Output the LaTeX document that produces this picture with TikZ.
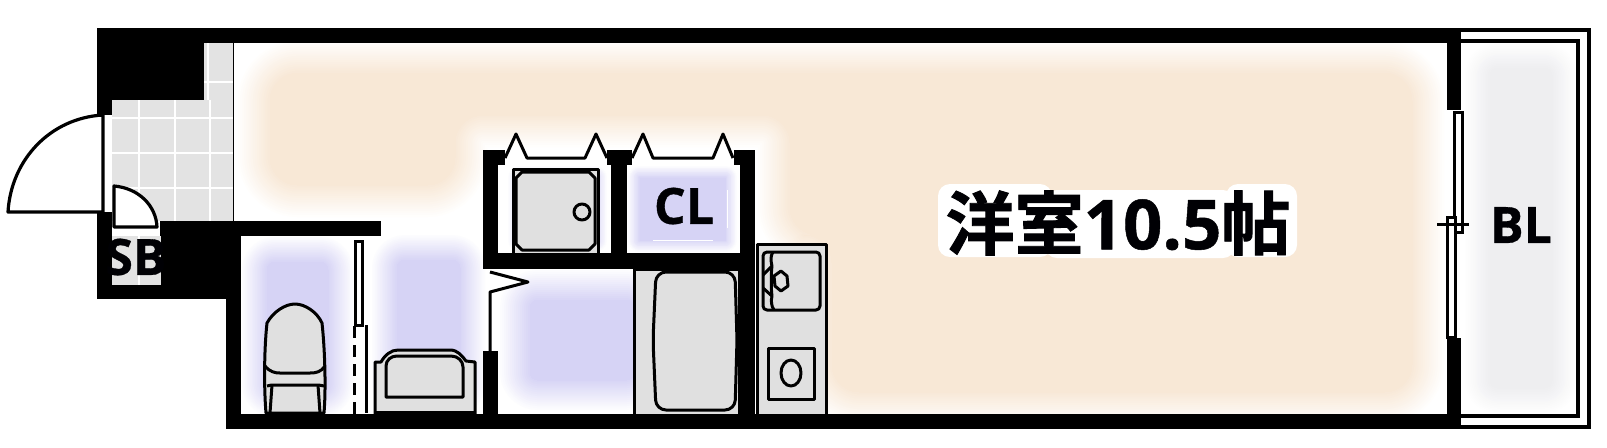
\documentclass[tikz,border=0pt]{standalone}
\usepackage{fontspec}
\setmainfont{Open Sans}[BoldFont={Open Sans Bold},BoldFeatures={FakeBold=0.7}]
\newfontfamily\cjkf{Noto Sans CJK JP}[BoldFont={Noto Sans CJK JP Bold},BoldFeatures={FakeBold=1.3}]
\definecolor{peach}{HTML}{F8E8D6}
\definecolor{lav}{HTML}{D6D3F5}
\definecolor{tile}{HTML}{E3E3E3}
\definecolor{fixgray}{HTML}{E0E0E0}
\definecolor{balc}{HTML}{EEEEF0}
\definecolor{ink}{HTML}{000004}
\newcommand{\blurpath}[3]{%
  \foreach \st in {0,1,...,15}{%
    \pgfmathsetmacro{\wd}{#2*(1-\st/15)}%
    \pgfmathsetmacro{\pc}{100*(\st+1)/16}%
    \filldraw[draw={#1!\pc!white},fill={#1!\pc!white},line width=\wd*0.5pt,line join=round] #3;
  }%
}
\tikzset{
  wall/.style={fill=black,draw=none},
  fix/.style={draw=black,line width=1.5pt,fill=fixgray,line join=round},
  lin/.style={draw=black,line width=1.5pt,line join=round},
  doorw/.style={draw=black,line width=1.6pt,fill=white,line join=round},
  grid/.style={draw=white,line width=1.3pt},
  lab/.style={inner sep=0pt,text=ink,font=\fontsize{25}{25}\selectfont\bfseries},
  room/.style={inner sep=0pt,text=ink,font=\fontsize{34.5}{36}\selectfont\bfseries}
}
\begin{document}
\begin{tikzpicture}[x=0.5pt,y=-0.5pt]
\useasboundingbox (0,0) rectangle (1607,447);
\fill[white] (0,0) rectangle (1607,447);
% soft floor colours
\blurpath{peach}{64}{[rounded corners=14pt] (270,73) -- (1412,73) -- (1412,392) -- (832,392) -- (832,235) -- (790,235) -- (790,115) -- (455,115) -- (455,185) -- (270,185) -- cycle}
\blurpath{lav}{50}{[rounded corners=4pt] (267,262) rectangle (328,392)}
\blurpath{lav}{50}{[rounded corners=4pt] (397,260) rectangle (460,392)}
\blurpath{lav}{60}{[rounded corners=4pt] (530,300) rectangle (634,380)}
\blurpath{lav}{24}{(520,178) rectangle (595,240)}
\blurpath{lav}{24}{(640,178) rectangle (725,240)}
\fill[white] (498,158) rectangle (740,165);
% balcony floor
\fill[white] (1461,28) rectangle (1591,429);
\blurpath{balc}{50}{[rounded corners=4pt] (1490,68) rectangle (1552,388)}
\draw[draw=black,line width=2pt] (1461,30) -- (1589,30) -- (1589,427) -- (1461,427);
\draw[draw=black,line width=2pt] (1461,41) -- (1578,41) -- (1578,416) -- (1461,416);
% entrance tile
\fill[tile] (112,100) rectangle (233,221);
\fill[tile] (204,43) rectangle (233,100);
\fill[tile] (112,236) rectangle (161,285);
\foreach \gx in {139,175,210}{\draw[grid] (\gx,100) -- (\gx,221);}
\draw[grid] (139,236) -- (139,285);
\draw[grid] (208,43) -- (208,100);
\foreach \gy in {118,153,188}{\draw[grid] (112,\gy) -- (233,\gy);}
\draw[grid] (204,82) -- (233,82);
\fill[white] (112,221) rectangle (161,236);
\draw[black,line width=0.5pt] (233.5,43) -- (233.5,221);
% walls
\fill[wall] (97,28) rectangle (1461,43);
\fill[wall] (226,414) rectangle (1461,429);
\fill[wall] (97,28) rectangle (204,100);
\fill[wall] (97,100) rectangle (112,115);
\fill[wall] (97,212) rectangle (112,299);
\fill[wall] (97,285) rectangle (226,299);
\fill[wall] (160,221) rectangle (381,236);
\fill[wall] (161,236) rectangle (241,299);
\fill[wall] (226,299) rectangle (241,414);
\fill[wall] (1447,28) rectangle (1461,110);
\fill[wall] (1447,338) rectangle (1461,429);
\fill[wall] (483,150) rectangle (505,165);
\fill[wall] (483,165) rectangle (498,269);
\fill[wall] (483,253) rectangle (755,269);
\fill[wall] (607,150) rectangle (632,165);
\fill[wall] (611,165) rectangle (627,253);
\fill[wall] (734,150) rectangle (755,165);
\fill[wall] (740,165) rectangle (755,414);
\fill[wall] (483,351) rectangle (498,414);
% entrance door
\fill[white] (97,115) rectangle (112,212);
\draw[doorw] (103,115) .. controls (50,118) and (11,160) .. (8,212) -- (103,212) -- cycle;
% SB door
\draw[doorw] (114,186) .. controls (138,188) and (156,205) .. (157,227) -- (114,227) -- cycle;
% toilet partition
\draw[draw=black,line width=1.5pt,fill=white] (355,241) rectangle (362,325);
\draw[black,line width=1.5pt,dash pattern=on 6pt off 3.5pt] (354.5,326) -- (354.5,414);
\draw[lin] (366,325) -- (366,413);
% toilet
\draw[fix] (266,413) .. controls (264,390) and (264,350) .. (267,323) .. controls (273,312) and (285,304) .. (295,304) .. controls (305,304) and (317,312) .. (322,323) .. controls (325,350) and (326,390) .. (324,413) -- cycle;
\draw[lin] (265,366) .. controls (270,372) and (275,373) .. (280,373) -- (310,373) .. controls (316,373) and (321,372) .. (325,366);
\draw[lin] (267,386) .. controls (270,385) and (272,385) .. (275,385) -- (315,385) .. controls (318,385) and (321,385) .. (324,386);
\draw[lin] (272,385) -- (270,413);
\draw[lin] (318,385) -- (320,413);
% wash basin
\draw[fix] (375,414) -- (375,362) -- (381,362) .. controls (385,355) and (391,350) .. (398,350) -- (450,350) .. controls (458,350) and (462,356) .. (466,361) -- (475,362) -- (475,414) -- cycle;
\draw[fix] (386,397) -- (386,366) .. controls (386,360) and (391,356) .. (397,356) -- (451,356) .. controls (458,356) and (463,361) .. (463,367) -- (463,397) -- cycle;
\draw[black,line width=0.6pt] (375,412) -- (475,412);
% hall door
\draw[lin,fill=white] (490,272) -- (528,282) -- (490,292) -- (490,351);
% closet folding doors
\draw[lin] (505,158) -- (516,134) -- (527,158) -- (585,158) -- (596,134) -- (607,158);
\draw[lin] (632,158) -- (643,134) -- (653,158) -- (713,158) -- (723,134) -- (733,158);
% washer pan
\fill[fixgray] (513,168) rectangle (598,253);
\draw[lin] (513,253) -- (513,169) -- (598,169) -- (598,253);
\draw[fix] (522,172) -- (589,172) -- (595,178) -- (595,244) -- (589,250) -- (522,250) -- (516,244) -- (516,178) -- cycle;
\draw[fix] (582,212) circle (8);
% bath
\draw[fix] (634,414) -- (634,269) -- (739,269) -- (739,414);
\draw[fix,rounded corners=5pt] (656,272) -- (735,272) -- (737,340) -- (735,410) -- (656,410) -- (653,340) -- cycle;
% kitchen
\draw[fix] (757,414) -- (757,244) -- (826,244) -- (826,414);
\draw[fix,rounded corners=2pt] (763,252) -- (820,252) -- (820,310) -- (763,310) -- cycle;
\draw[lin] (773,252) .. controls (770,256) and (771,262) .. (772,266) .. controls (771,272) and (771,290) .. (772,296) .. controls (771,300) and (771,306) .. (774,310);
\draw[lin] (763,275) -- (772,266);
\draw[lin] (763,288) -- (772,296);
\draw[fix] (781,271) -- (787,276) -- (788,286) -- (781,291) -- (775,286) -- (774,276) -- cycle;
\draw[fix] (768,348) rectangle (814,399);
\draw[fix] (791,373) ellipse (10 and 13);
% balcony sash
\fill[white] (1447,110) rectangle (1461,338);
\draw[draw=black,line width=1.5pt,fill=white] (1454,112) rectangle (1462,232);
\draw[draw=black,line width=1.5pt,fill=white] (1447,217) rectangle (1455,337);
\draw[lin] (1437,224) -- (1469,224);
% room label halo
\fill[white,rounded corners=6pt] (938,184) rectangle (1052,257);
\fill[white,rounded corners=6pt] (1045,190) rectangle (1235,258);
\fill[white,rounded corners=6pt] (1226,184) rectangle (1297,257);
% labels
\node[room] (roomlabel) at (1118,223) {{\cjkf 洋室}10.5{\cjkf 帖}};
\node[lab] (sb) at (136,257) {SB};
\node[lab] (cl) at (684,206) {CL};
\node[lab] (bl) at (1521,225) {BL};
\draw[white,line width=0.5pt] (727,190) -- (727,228);
\draw[white,line width=0.5pt] (653,240) -- (713,240);
\end{tikzpicture}
\end{document}
